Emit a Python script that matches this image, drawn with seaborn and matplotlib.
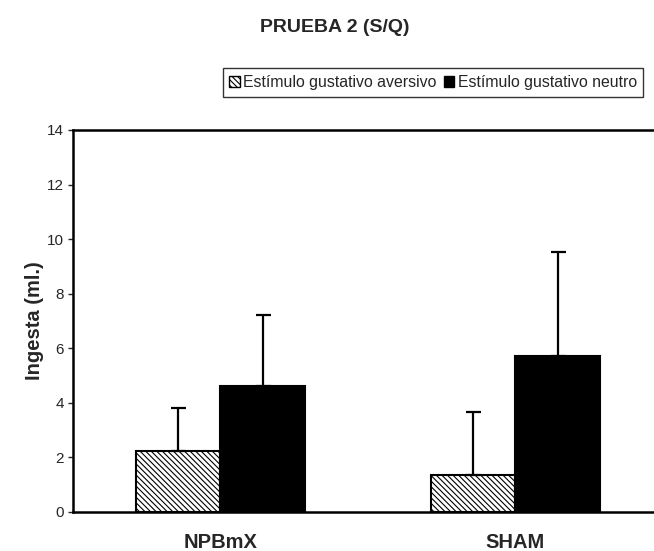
import pandas as pd
import matplotlib.pyplot as plt
import seaborn as sns
from matplotlib.patches import Patch

# data
groups = ["NPBmX", "SHAM"]
series = ["Estímulo gustativo aversivo", "Estímulo gustativo neutro"]
aversivo_mean = [2.25, 1.34]
aversivo_sd = [1.55, 2.31]
neutro_mean = [4.6, 5.7]
neutro_sd = [2.62, 3.82]

df = pd.DataFrame({
    "grupo": groups * 2,
    "estimulo": [series[0]] * 2 + [series[1]] * 2,
    "ingesta": aversivo_mean + neutro_mean,
})
sds = [aversivo_sd, neutro_sd]

sns.set_style("white")
plt.rcParams["font.family"] = ["Liberation Sans", "DejaVu Sans"]
plt.rcParams["hatch.linewidth"] = 0.8

HATCH = "\\" * 6

fig = plt.figure(figsize=(6.54, 5.51), dpi=100)
# axes run past the right edge like the cropped original
ax = fig.add_axes([0.1116, 0.0708, 0.902, 0.6933])

sns.barplot(data=df, x="grupo", y="ingesta", hue="estimulo", hue_order=series,
            palette=["white", "black"], width=0.575, gap=0,
            edgecolor="black", linewidth=1.5, legend=False, ax=ax)

for patch in ax.containers[0]:
    patch.set_hatch(HATCH)

# one-sided error bars (upper only)
for cont, sd in zip(ax.containers, sds):
    xs = [p.get_x() + p.get_width() / 2 for p in cont]
    ys = [p.get_height() for p in cont]
    ax.errorbar(xs, ys, yerr=[[0] * len(sd), sd], fmt="none", ecolor="black",
                elinewidth=1.6, capsize=5.4, capthick=1.6, zorder=3)

ax.set_xlim(-0.5, 1.5)
ax.set_ylim(0, 14)
ax.set_yticks(range(0, 15, 2))
ax.tick_params(axis="y", direction="out", length=3.6, width=1, pad=3, labelsize=11, left=True)
ax.tick_params(axis="x", length=0, pad=15, labelsize=14.5)
for lbl in ax.get_xticklabels():
    lbl.set_fontweight("bold")
ax.set_xlabel("")
ax.set_ylabel("Ingesta (ml.)", fontsize=14.5, fontweight="bold", labelpad=2)
for s in ax.spines.values():
    s.set_linewidth(1.8)
    s.set_color("black")

fig.text(335 / 654, 1 - 27 / 551, "PRUEBA 2 (S/Q)", ha="center", va="center",
         fontsize=14, fontweight="bold")

handles = [Patch(facecolor="white", edgecolor="black", hatch=HATCH, linewidth=1),
           Patch(facecolor="black", edgecolor="black", linewidth=1)]
leg = fig.legend(handles, series, loc="center", bbox_to_anchor=(433 / 654, 1 - 82.5 / 551),
                 ncol=2, fontsize=11.4, frameon=True, fancybox=False, shadow=False,
                 handlelength=0.65, handleheight=0.65, handletextpad=0.2,
                 columnspacing=0.5, borderpad=0.42, borderaxespad=0)
leg.get_frame().set_edgecolor("black")
leg.get_frame().set_linewidth(1)

plt.savefig("out.png", dpi=100)
